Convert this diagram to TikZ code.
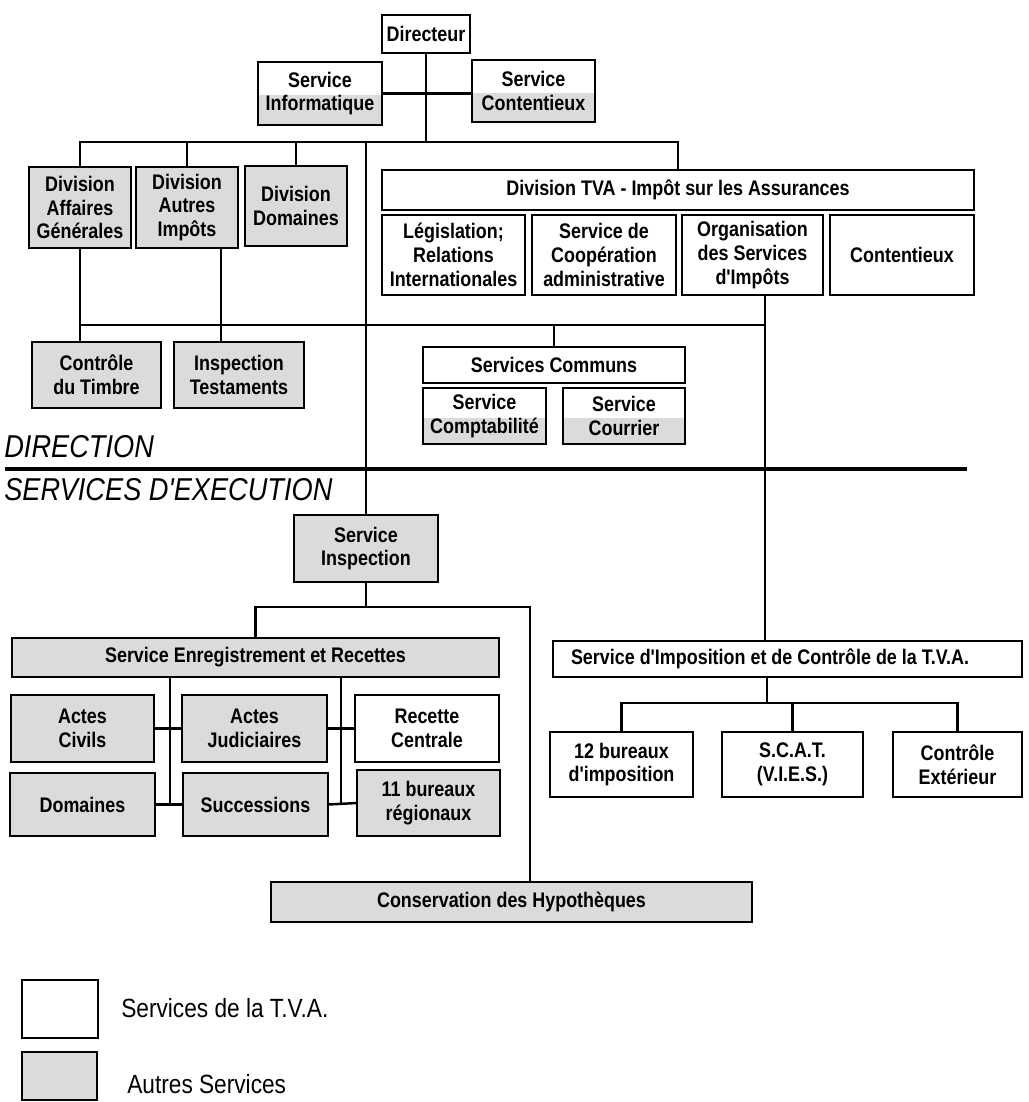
\documentclass[tikz,border=0pt]{standalone}
\usepackage{fontspec}
\setmainfont{Liberation Sans}
\newfontfamily\boxfont{Liberation Sans}[FakeStretch=0.85]
\newfontfamily\labfont{Liberation Sans}[FakeStretch=0.86]
\usetikzlibrary{calc}
\tikzset{
  tva/.style={draw, line width=1.6pt, fill=white, align=center, inner sep=1pt, outer sep=0pt,
    font=\boxfont\bfseries\fontsize{12}{13.5}\selectfont},
  autre/.style={tva, fill=black!14},
  halfshade/.style={path picture={\fill[black!14] ([yshift=-1pt]path picture bounding box.west) rectangle (path picture bounding box.south east);}},
  conn/.style={line width=1.4pt},
  sectlabel/.style={anchor=base west, inner sep=0pt, font=\labfont\itshape\fontsize{18}{20}\selectfont},
  legtext/.style={anchor=west, inner sep=0pt, font=\labfont\fontsize{15}{17}\selectfont},
}
\newcommand\bnode[7]{\node[#1, minimum width={(#5-#3)*0.02cm}, minimum height={(#6-#4)*0.02cm}] (#2) at ({(#3+#5)/2},{(#4+#6)/2}) {#7};}
\begin{document}
\begin{tikzpicture}[x=0.02cm, y=-0.02cm]
\useasboundingbox (0,0) rectangle (1028,1102);

% --- Direction level ---
\bnode{tva}{dir}{382}{15}{470}{53}{Directeur}
\bnode{tva,halfshade}{sinf}{258}{62}{382}{125}{Service\\Informatique}
\bnode{tva,halfshade}{scom}{472}{60}{595}{122}{Service\\Contentieux}
\bnode{autre}{dag}{29}{167}{131}{248}{Division\\Affaires\\Générales}
\bnode{autre}{dai}{136}{167}{238}{248}{Division\\Autres\\Impôts}
\bnode{autre}{ddom}{245}{166}{347}{246}{Division\\Domaines}
\bnode{tva}{dtva}{382}{170}{974}{210}{Division TVA - Impôt sur les Assurances}
\bnode{tva}{leg}{382}{215}{525}{295}{Législation;\\Relations\\Internationales}
\bnode{tva}{coop}{532}{215}{676}{295}{Service de\\Coopération\\administrative}
\bnode{tva}{org}{682}{215}{823}{295}{Organisation\\des Services\\d'Impôts}
\bnode{tva}{cont}{830}{215}{974}{295}{Contentieux}
\bnode{autre}{ctim}{32}{342}{161}{408}{Contrôle\\du Timbre}
\bnode{autre}{itest}{174}{342}{304}{408}{Inspection\\Testaments}
\bnode{tva}{scc}{423}{347}{685}{383}{Services Communs}
\bnode{tva,halfshade}{scpt}{423}{388}{546}{444}{Service\\Comptabilité}
\bnode{tva,halfshade}{scour}{563}{388}{685}{444}{Service\\Courrier}

% --- section labels and separator ---
\node[sectlabel] (ldir) at (4,457) {DIRECTION};
\draw[line width=2.4pt] (5,469) -- (967,469);
\node[sectlabel] (lexe) at (4,500) {SERVICES D'EXECUTION};

% --- Services d'exécution ---
\bnode{autre}{sinsp}{294}{515}{438}{582}{Service\\Inspection}
\bnode{autre}{ser}{12}{638}{499}{677}{Service Enregistrement et Recettes}
\bnode{autre}{ac}{11}{695}{154}{762}{Actes\\Civils}
\bnode{autre}{aj}{182}{695}{327}{762}{Actes\\Judiciaires}
\bnode{tva}{rc}{355}{695}{499}{762}{Recette\\Centrale}
\bnode{autre}{dom}{10}{773}{155}{836}{Domaines}
\bnode{autre}{succ}{183}{773}{328}{836}{Successions}
\bnode{autre}{breg}{357}{770}{500}{836}{11 bureaux\\régionaux}
\bnode{autre}{cons}{271}{882}{752}{922}{Conservation des Hypothèques}
\bnode{tva}{simp}{553}{641}{1022}{677}{Service d'Imposition et de Contrôle de la T.V.A.\hspace*{0.7cm}}
\bnode{tva}{b12}{550}{732}{693}{797}{12 bureaux\\d'imposition}
\bnode{tva}{scat}{722}{732}{863}{797}{S.C.A.T.\\(V.I.E.S.)}
\bnode{tva}{cext}{893}{732}{1022}{797}{Contrôle\\Extérieur}

% --- junction coordinates ---
\coordinate (jTop) at (427,142);
\coordinate (jLong) at (366,142);
\coordinate (jMid) at (765,325);
\coordinate (xAI) at (221,325);
\coordinate (jIns) at (366,607);
\coordinate (jCons) at (530,607);
\coordinate (xV1) at (170,804);
\coordinate (xV2) at (341,804);
\coordinate (jImp) at (767,703);

% --- connectors ---
\draw[conn] (dir.south) -- (dir.south |- jTop);
\draw[conn] (sinf.east) -- (sinf.east -| scom.west);
\draw[conn] (dag.north) |- (dtva.north |- jTop) -- (dtva.north);
\draw[conn] (dai.north) -- (dai.north |- jTop);
\draw[conn] (ddom.north) -- (ddom.north |- jTop);
\draw[conn] (jLong) -- (sinsp.north -| jLong);
\draw[conn] (dag.south) -- (ctim.north -| dag.south);
\draw[conn] (dai.south -| xAI) -- (itest.north -| xAI);
\draw[conn] (dag.south |- jMid) -- (jMid);
\draw[conn] (org.south -| jMid) -- (simp.north -| jMid);
\draw[conn] (scc.north) -- (scc.north |- jMid);
\draw[conn] (sinsp.south) -- (jIns);
\draw[conn] (ser.north) |- (jCons) -- (cons.north -| jCons);
\draw[conn] (ser.south -| xV1) -- (xV1);
\draw[conn] (ser.south -| xV2) -- (xV2);
\draw[conn] (ac.east) -- (aj.west);
\draw[conn] (aj.east) -- (rc.west);
\draw[conn] (dom.east) -- (succ.west);
\draw[conn] (succ.east) -- (breg.west);
\draw[conn] (simp.south -| jImp) -- (jImp);
\draw[conn] (b12.north) |- (cext.north |- jImp) -- (cext.north);
\draw[conn] (scat.north) -- (scat.north |- jImp);

% --- legend ---
\bnode{tva}{lg1}{22}{980}{98}{1038}{}
\bnode{autre}{lg2}{22}{1052}{97}{1100}{}
\node[legtext] (lt1) at (121,1008) {Services de la T.V.A.};
\node[legtext] (lt2) at (127,1084) {Autres Services};
\end{tikzpicture}
\end{document}
